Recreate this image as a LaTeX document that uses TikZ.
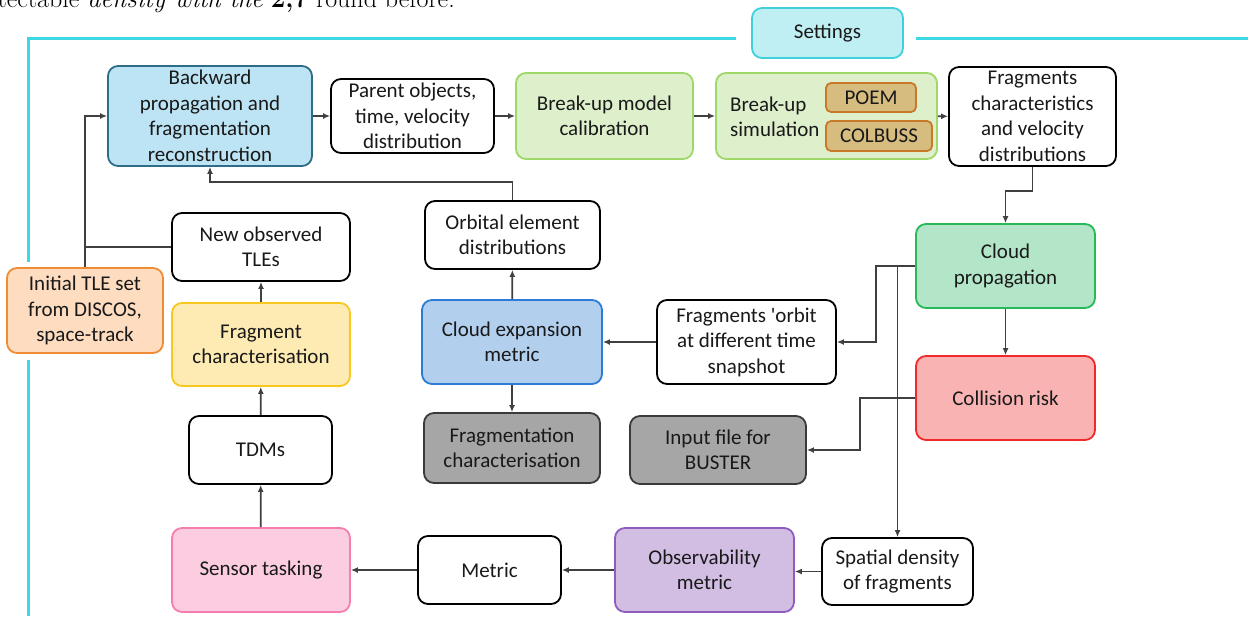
\documentclass[tikz,border=0pt]{standalone}
\usepackage{fontspec}
\newfontfamily\carl{Carlito}
\usetikzlibrary{arrows.meta}
\definecolor{cyanline}{HTML}{3DD8E4}
\definecolor{setfill}{HTML}{BFEFF3}\definecolor{setdraw}{HTML}{40D0DC}
\definecolor{backfill}{HTML}{BDE4F4}\definecolor{backdraw}{HTML}{2F6C87}
\definecolor{grfill}{HTML}{DDEFCB}\definecolor{grdraw}{HTML}{9ED867}
\definecolor{tanfill}{HTML}{D6BC7F}\definecolor{tandraw}{HTML}{C9782A}
\definecolor{cpfill}{HTML}{B3E6C8}\definecolor{cpdraw}{HTML}{27B85A}
\definecolor{crfill}{HTML}{FAB3B3}\definecolor{crdraw}{HTML}{F02A2A}
\definecolor{cefill}{HTML}{B2CFEE}\definecolor{cedraw}{HTML}{2C7BD6}
\definecolor{gyfill}{HTML}{A6A6A6}\definecolor{gydraw}{HTML}{3A3A3A}
\definecolor{obfill}{HTML}{D3BEE3}\definecolor{obdraw}{HTML}{8E5CBE}
\definecolor{snfill}{HTML}{FCCDE0}\definecolor{sndraw}{HTML}{F57EAE}
\definecolor{fcfill}{HTML}{FEEBB3}\definecolor{fcdraw}{HTML}{F7C81E}
\definecolor{itfill}{HTML}{FDDCC0}\definecolor{itdraw}{HTML}{F08C34}
\definecolor{linecol}{HTML}{404040}
\tikzset{
  box/.style={draw=black, fill=white, rounded corners=10pt, line width=1.8pt, align=center,
    inner sep=0pt, font=\carl\fontsize{21}{25.5}\selectfont, text=black!90},
  sz/.style 2 args={minimum width=#1pt, minimum height=#2pt},
  ln/.style={draw=linecol, line width=1.7pt},
  arr/.style={ln, -{Latex[length=7pt,width=6pt]}},
}
\begin{document}
\begin{tikzpicture}[x=1pt,y=-1pt]
\useasboundingbox (0,0) rectangle (1248,616);
% top cut text
\node[anchor=base east, inner sep=0pt, font=\fontsize{26}{30}\selectfont] (toptext) at (455,7) {detectable \textit{density with the} \textbf{2,7} round before.};
% cyan frame
\draw[cyanline, line width=3pt] (28,616) -- (28,360);
\draw[cyanline, line width=3pt] (28,262) -- (28,38) -- (736,38);
\draw[cyanline, line width=3pt] (916,38) -- (1248,38);
\node[box, sz={151}{50}, fill=setfill, draw=setdraw] (settings) at (827.5,33) {Settings};
% top row
\node[box, sz={204}{100}, fill=backfill, draw=backdraw] (back) at (210,116) {Backward\\propagation and\\fragmentation\\reconstruction};
\node[box, sz={163}{74}] (parent) at (412.5,116) {Parent objects,\\time, velocity\\distribution};
\node[box, sz={177}{86}, fill=grfill, draw=grdraw] (bmc) at (604.5,116) {Break-up model\\calibration};
\node[box, sz={221}{86}, fill=grfill, draw=grdraw] (bsim) at (826.5,116) {};
\node[anchor=west, align=left, inner sep=0pt, font=\carl\fontsize{21}{25.5}\selectfont, text=black!90] (bsimt) at (730,117) {Break-up\\simulation};
\node[box, sz={90}{29}, fill=tanfill, draw=tandraw, rounded corners=5pt] (poem) at (871,97.5) {POEM};
\node[box, sz={106}{30}, fill=tanfill, draw=tandraw, rounded corners=5pt] (colbuss) at (879,136) {COLBUSS};
\node[box, sz={167}{99}] (fchar) at (1032.5,116.5) {Fragments\\characteristics\\and velocity\\distributions};
% right column
\node[box, sz={179}{84}, fill=cpfill, draw=cpdraw] (cloud) at (1005.5,266) {Cloud\\propagation};
\node[box, sz={179}{84}, fill=crfill, draw=crdraw] (coll) at (1005.5,398) {Collision risk};
% middle
\node[box, sz={179}{84}] (orbit) at (746.5,342) {Fragments 'orbit\\at different time\\snapshot};
\node[box, sz={180}{84}, fill=cefill, draw=cedraw] (cexp) at (512,342) {Cloud expansion\\metric};
\node[box, sz={175}{68}] (orbel) at (512.5,235) {Orbital element\\distributions};
\node[box, sz={176}{70}, fill=gyfill, draw=gydraw] (fragc) at (512,448) {Fragmentation\\characterisation};
\node[box, sz={176}{68}, fill=gyfill, draw=gydraw] (input) at (718,450) {Input file for\\BUSTER};
% bottom row
\node[box, sz={151}{67}] (spat) at (897.5,571.5) {Spatial density\\of fragments};
\node[box, sz={179}{84}, fill=obfill, draw=obdraw] (obs) at (704.5,570) {Observability\\metric};
\node[box, sz={143}{68}] (metric) at (489.5,570) {Metric};
\node[box, sz={178}{84}, fill=snfill, draw=sndraw] (sensor) at (261,570) {Sensor tasking};
% left column
\node[box, sz={143}{68}] (tdm) at (260.5,450) {TDMs};
\node[box, sz={178}{83}, fill=fcfill, draw=fcdraw] (fragch) at (261,344.5) {Fragment\\characterisation};
\node[box, sz={178}{68}] (newobs) at (261,247) {New observed\\TLEs};
\node[box, sz={156}{85}, fill=itfill, draw=itdraw] (init) at (85,310.5) {Initial TLE set\\from DISCOS,\\space-track};
% connectors
\draw[arr] (init.north) |- (back.west);
\draw[ln] (newobs.west) -- (init.north |- newobs.west);
\draw[arr] (back) -- (parent);
\draw[arr] (parent) -- (bmc);
\draw[arr] (bmc) -- (bsim);
\draw[arr] (bsim) -- (fchar);
\draw[arr] (fchar.south) -- ++(0,24) -| (cloud.north);
\draw[arr] (cloud.west) -- ++(-39,0) |- (orbit.east);
\draw[arr] (cloud.west -| spat.north) -- (spat.north);
\draw[arr] (cloud) -- (coll);
\draw[arr] (coll.west) -- ++(-55,0) |- (input.east);
\draw[arr] (orbit) -- (cexp);
\draw[arr] (cexp) -- (orbel);
\draw[arr] (cexp) -- (fragc);
\draw[arr] (orbel.north) -- ++(0,-18) -| (back.south);
\draw[arr] (spat.west) -- (obs.east |- spat.west);
\draw[arr] (obs) -- (metric);
\draw[arr] (metric) -- (sensor);
\draw[arr] (sensor) -- (tdm);
\draw[arr] (tdm) -- (fragch);
\draw[arr] (fragch) -- (newobs);
\end{tikzpicture}
\end{document}
